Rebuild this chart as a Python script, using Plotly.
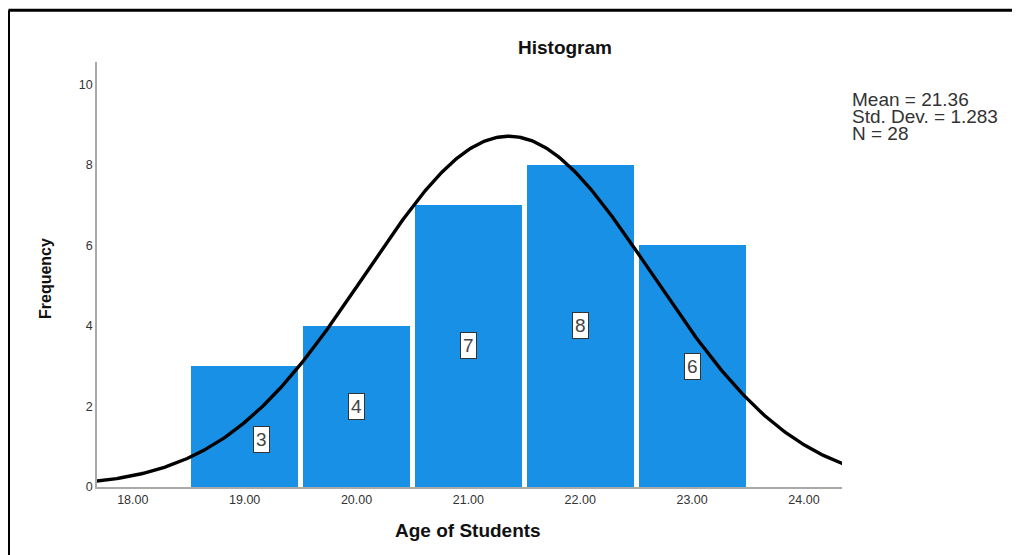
import numpy as np
import plotly.graph_objects as go

# Data
ages = [19, 20, 21, 22, 23]
freq = [3, 4, 7, 8, 6]
label_x = [19.15, 20, 21, 22, 23]
label_y = [1.17, 2.0, 3.52, 4.02, 3.0]
mean_age = 21.36
std_age = 1.283
n_students = 28
stats_lines = ["Mean = 21.36", "Std. Dev. = 1.283", "N = 28"]
x_ticks = [18, 19, 20, 21, 22, 23, 24]
x_ticktext = ["18.00", "19.00", "20.00", "21.00", "22.00", "23.00", "24.00"]
y_ticks = [0, 2, 4, 6, 8, 10]

FONT = "Liberation Sans, Arial, sans-serif"
BAR = "#1790e5"

# page offset (body margin) = 8px; plot area in window pixels: x 97..842, y 62..487
OFF = 8
PL, PR, PT, PB = 97 - OFF, 842 - OFF, 62 - OFF, 487 - OFF
W, H = 1020 - OFF, 555 - OFF
PW, PH = PR - PL, PB - PT


def px(xw):
    return (xw - OFF - PL) / PW


def py(yw):
    return (PB - (yw - OFF)) / PH


fig = go.Figure()
fig.add_trace(go.Bar(
    x=ages, y=freq, width=0.955,
    marker=dict(color=BAR, line=dict(width=0)),
    hoverinfo="skip", showlegend=False,
))

xs = np.linspace(17.6, 24.4, 400)
ys = n_students * 1.0 / (std_age * np.sqrt(2 * np.pi)) * np.exp(-0.5 * ((xs - mean_age) / std_age) ** 2)
fig.add_trace(go.Scatter(x=xs, y=ys, mode="lines", line=dict(color="black", width=3.4),
                         hoverinfo="skip", showlegend=False))

for lx, ly, v in zip(label_x, label_y, freq):
    fig.add_annotation(x=lx, y=ly, xref="x", yref="y", text=str(v), showarrow=False,
                       xanchor="center", yanchor="middle",
                       font=dict(family=FONT, size=19, color="#444"),
                       bgcolor="white", bordercolor="#333", borderwidth=1, borderpad=2)

# title
fig.add_annotation(x=px(565), y=py(48), xref="paper", yref="paper",
                   xanchor="center", yanchor="middle",
                   text="<b>Histogram</b>", showarrow=False,
                   font=dict(family=FONT, size=19, color="#111"))
# stats text
for i, s in enumerate(stats_lines):
    fig.add_annotation(x=px(850), y=py(99 + 17 * i), xref="paper", yref="paper",
                       text=s, showarrow=False, xanchor="left", yanchor="middle",
                       font=dict(family=FONT, size=19, color="#333"))
# axis titles
fig.add_annotation(x=px(45), y=py(279), xref="paper", yref="paper",
                   xanchor="center", yanchor="middle",
                   text="<b>Frequency</b>", showarrow=False, textangle=-90,
                   font=dict(family=FONT, size=16, color="#111"))
fig.add_annotation(x=px(468), y=py(530), xref="paper", yref="paper",
                   xanchor="center", yanchor="middle",
                   text="<b>Age of Students</b>", showarrow=False,
                   font=dict(family=FONT, size=19, color="#111"))

# frame
lx0 = px(8.5)
ty0 = py(10.3)
fig.add_shape(type="line", xref="paper", yref="paper", x0=lx0, x1=lx0, y0=-0.5, y1=ty0,
              line=dict(color="black", width=3))
fig.add_shape(type="line", xref="paper", yref="paper", x0=lx0, x1=1.4, y0=ty0, y1=ty0,
              line=dict(color="black", width=3))

fig.update_layout(
    width=W, height=H,
    margin=dict(l=PL, r=W - PR, t=PT, b=H - PB),
    paper_bgcolor="white", plot_bgcolor="white",
    bargap=0,
    xaxis=dict(range=[17.68, 24.34], tickvals=x_ticks, ticktext=x_ticktext,
               showgrid=False, zeroline=False, showline=True, linecolor="#aaa", linewidth=1.5,
               ticks="", tickfont=dict(family=FONT, size=12.5, color="#333"), fixedrange=True),
    yaxis=dict(range=[0, 10.55], tickvals=y_ticks,
               showgrid=False, zeroline=False, showline=True, linecolor="#aaa", linewidth=1.5,
               ticks="", tickfont=dict(family=FONT, size=12.5, color="#333"), fixedrange=True),
)

fig.write_html("out.html")
